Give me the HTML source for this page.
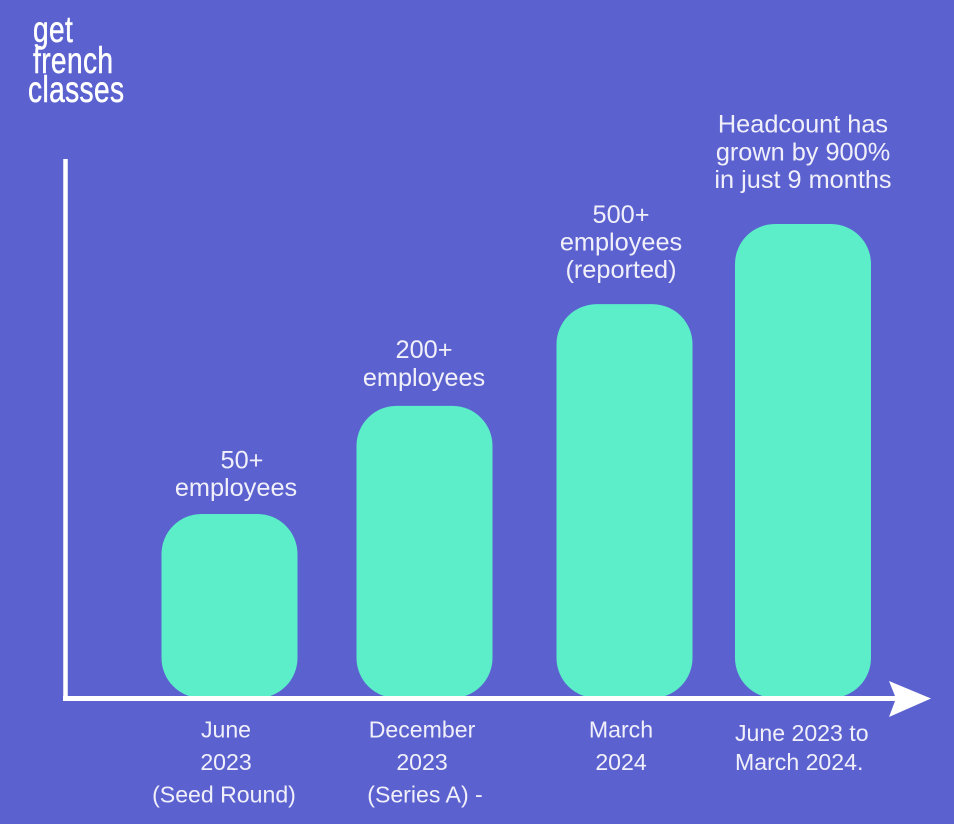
<!DOCTYPE html>
<html lang="en">
<head>
<meta charset="utf-8">
<title>Headcount growth chart</title>
<style>
html,body{margin:0;padding:0;background:#5b62cf;}
svg{display:block;}
text{font-family:"Liberation Sans",Arial,sans-serif;fill:#f1f0fa;}
.logo-text{fill:#fff;stroke:#fff;stroke-width:0.5px;letter-spacing:0.5px;}
</style>
</head>
<body>
<svg id="chart" width="954" height="824" viewBox="0 0 954 824" xmlns="http://www.w3.org/2000/svg">
  <rect x="0" y="0" width="954" height="824" fill="#5b62cf"/>
  <g>
    <text class="logo-text" transform="translate(33,42) scale(0.76,1)" font-size="37">get</text>
    <text class="logo-text" transform="translate(33,73) scale(0.76,1)" font-size="37">french</text>
    <text class="logo-text" transform="translate(28,102) scale(0.76,1)" font-size="37">classes</text>
  </g>
  <g id="bars"></g>
  <g id="labels"></g>
  <line x1="65.500" y1="159" x2="65.500" y2="700" stroke="#ffffff" stroke-width="4.5"/>
  <line x1="63" y1="698.500" x2="900" y2="698.500" stroke="#ffffff" stroke-width="5"/>
  <polygon points="889,681 931,698.500 889,717 896,698.500" fill="#ffffff"/>
</svg>
<script>
var categories = [
  ["June", "2023", "(Seed Round)"],
  ["December", "2023", "(Series A) -"],
  ["March", "2024"],
  ["June 2023 to", "March 2024."]
];
var annotations = [
  ["50+", "employees"],
  ["200+", "employees"],
  ["500+", "employees", "(reported)"],
  ["Headcount has", "grown by 900%", "in just 9 months"]
];
/* Bar heights, as a percent of the y-axis length (no printed scale) */
var barValues = [34.2, 54.3, 73.2, 88.1];

var NS = "http://www.w3.org/2000/svg";
var plotBase = 698, plotTop = 160;
function yScale(v) { return plotBase - (v / 100) * (plotBase - plotTop); }
var barCenters = [229.5, 424.5, 624.5, 803];
var categoryCenters = [224, 422, 621, 801];
var annotationCenters = [236, 424, 621, 803];
var annotationRaise = [18, 20, 26, 36];
var annotationLineGap = 27.7;
var barWidth = 136;

var barsG = document.getElementById("bars");
var labelsG = document.getElementById("labels");

function addLine(str, x, y, size, anchor) {
  var t = document.createElementNS(NS, "text");
  t.setAttribute("x", x);
  t.setAttribute("y", y);
  t.setAttribute("font-size", size);
  t.setAttribute("text-anchor", anchor);
  t.textContent = str;
  labelsG.appendChild(t);
  return t;
}

barValues.forEach(function (v, i) {
  var top = yScale(v);
  var r = document.createElementNS(NS, "rect");
  r.setAttribute("x", barCenters[i] - barWidth / 2);
  r.setAttribute("y", top);
  r.setAttribute("width", barWidth);
  r.setAttribute("height", plotBase - top);
  r.setAttribute("rx", 40);
  r.setAttribute("ry", 40);
  r.setAttribute("fill", "#5beec8");
  
  
  barsG.appendChild(r);

  var lines = annotations[i];
  lines.forEach(function (s, j) {
    var y = top - annotationRaise[i] - (lines.length - 1 - j) * annotationLineGap;
    var x = annotationCenters[i] + (i === 0 && j === 0 ? 6 : 0);
    var t = addLine(s, x, y, 25.3, "middle");
    
    
  });

  categories[i].forEach(function (s, j) {
    var last = i === categories.length - 1;
    var nudge = (i === 0 && j < 2) ? 2 : (i === 1 && j === 2) ? 3 : 0;
    var t = last
      ? addLine(s, 735, 741 + j * 29, 23.1, "start")
      : addLine(s, categoryCenters[i] + nudge, 737.5 + j * 32.5, 23.1, "middle");
    
    
  });
});
</script>
</body>
</html>
